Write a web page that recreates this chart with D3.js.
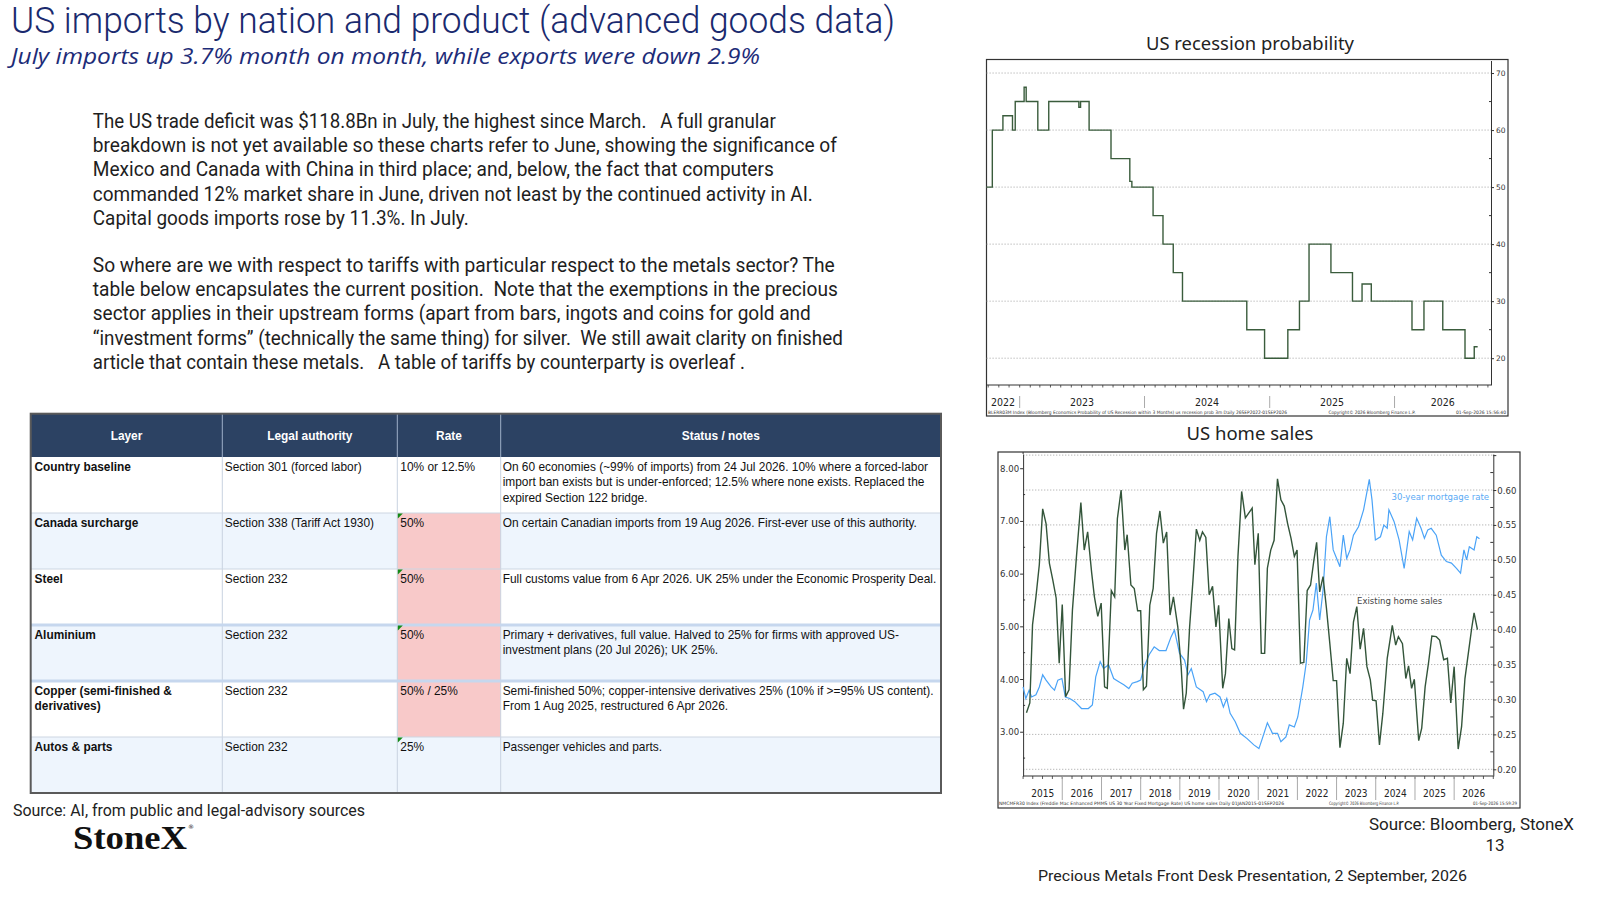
<!DOCTYPE html>
<html>
<head>
<meta charset="utf-8">
<script src="https://cdn.jsdelivr.net/npm/d3@7"></script>
<style>
  body { margin: 0; background: #fff; }
  svg { display: block; }
  text { white-space: pre; }
</style>
</head>
<body>
<svg id="slide" width="1600" height="900"></svg>
<script>
// ---- slide text ----
const slideTitle = "US imports by nation and product (advanced goods data)";
const slideSubtitle = "July imports up 3.7% month on month, while exports were down 2.9%";
const para1 = [
  "The US trade deficit was $118.8Bn in July, the highest since March.   A full granular",
  "breakdown is not yet available so these charts refer to June, showing the significance of",
  "Mexico and Canada with China in third place; and, below, the fact that computers",
  "commanded 12% market share in June, driven not least by the continued activity in AI.",
  "Capital goods imports rose by 11.3%. In July."
];
const para2 = [
  "So where are we with respect to tariffs with particular respect to the metals sector? The",
  "table below encapsulates the current position.  Note that the exemptions in the precious",
  "sector applies in their upstream forms (apart from bars, ingots and coins for gold and",
  "\u201cinvestment forms\u201d (technically the same thing) for silver.  We still await clarity on finished",
  "article that contain these metals.   A table of tariffs by counterparty is overleaf ."
];

// ---- tariff table ----
const tableHead = ["Layer", "Legal authority", "Rate", "Status / notes"];
const layers = [["Country baseline"], ["Canada surcharge"], ["Steel"], ["Aluminium"],
  ["Copper (semi-finished &", "derivatives)"], ["Autos & parts"]];
const authorities = ["Section 301 (forced labor)", "Section 338 (Tariff Act 1930)", "Section 232",
  "Section 232", "Section 232", "Section 232"];
const rates = ["10% or 12.5%", "50%", "50%", "50%", "50% / 25%", "25%"];
const notes = [
  ["On 60 economies (~99% of imports) from 24 Jul 2026. 10% where a forced-labor",
   "import ban exists but is under-enforced; 12.5% where none exists. Replaced the",
   "expired Section 122 bridge."],
  ["On certain Canadian imports from 19 Aug 2026. First-ever use of this authority."],
  ["Full customs value from 6 Apr 2026. UK 25% under the Economic Prosperity Deal."],
  ["Primary + derivatives, full value. Halved to 25% for firms with approved US-",
   "investment plans (20 Jul 2026); UK 25%."],
  ["Semi-finished 50%; copper-intensive derivatives 25% (10% if >=95% US content).",
   "From 1 Aug 2025, restructured 6 Apr 2026."],
  ["Passenger vehicles and parts."]
];

// ---- US recession probability (step series, %) ----
const recDates = ["2022-09-26", "2022-10-13", "2022-11-13", "2022-12-11", "2022-12-19", "2023-01-14",
  "2023-01-20", "2023-02-23", "2023-03-27", "2023-06-23", "2023-06-28", "2023-07-23", "2023-09-25",
  "2023-11-19", "2023-11-25", "2024-01-26", "2024-02-24", "2024-03-25", "2024-04-21", "2024-10-26",
  "2024-12-17", "2025-02-23", "2025-03-29", "2025-04-26", "2025-06-29", "2025-08-31", "2025-09-28",
  "2025-10-25", "2026-02-21", "2026-03-28", "2026-05-22", "2026-07-26", "2026-08-22", "2026-09-01"];
const recValues = [50, 60, 62.5, 60, 65, 67.5, 65, 60, 65, 64, 65, 60, 55, 51, 50, 45, 40, 35, 30, 25,
  20, 25, 30, 40, 35, 30, 33, 30, 25, 30, 25, 20, 22, 22];
const recTicks = [20, 30, 40, 50, 60, 70];

// ---- US home sales chart (time in decimal years) ----
const mortT = [2015.000, 2015.069, 2015.155, 2015.216, 2015.328, 2015.414, 2015.500, 2015.586, 2015.716,
  2015.802, 2015.888, 2015.991, 2016.078, 2016.190, 2016.319, 2016.491, 2016.664, 2016.767, 2016.853,
  2016.966, 2017.052, 2017.181, 2017.310, 2017.440, 2017.569, 2017.698, 2017.784, 2017.914, 2018.000,
  2018.086, 2018.216, 2018.345, 2018.474, 2018.647, 2018.776, 2018.862, 2018.991, 2019.121, 2019.207,
  2019.293, 2019.422, 2019.595, 2019.681, 2019.767, 2019.897, 2020.026, 2020.112, 2020.198, 2020.284,
  2020.414, 2020.543, 2020.716, 2020.888, 2021.017, 2021.103, 2021.233, 2021.362, 2021.491, 2021.578,
  2021.707, 2021.793, 2021.922, 2022.009, 2022.138, 2022.224, 2022.310, 2022.397, 2022.483, 2022.569,
  2022.655, 2022.741, 2022.828, 2022.914, 2023.000, 2023.086, 2023.172, 2023.259, 2023.345, 2023.431,
  2023.560, 2023.690, 2023.836, 2023.905, 2023.991, 2024.121, 2024.207, 2024.293, 2024.336, 2024.466,
  2024.595, 2024.724, 2024.853, 2024.940, 2025.043, 2025.155, 2025.241, 2025.328, 2025.414, 2025.543,
  2025.672, 2025.802, 2025.931, 2026.060, 2026.164, 2026.250, 2026.319, 2026.388, 2026.509, 2026.578,
  2026.647];
const mortRate = [3.85, 3.63, 3.79, 3.66, 3.70, 3.85, 4.08, 3.98, 3.85, 3.79, 3.98, 4.01, 3.66, 3.63,
  3.57, 3.44, 3.44, 3.51, 4.04, 4.33, 4.20, 4.27, 4.01, 3.95, 3.89, 3.82, 3.92, 3.95, 3.98, 4.23, 4.46,
  4.61, 4.54, 4.54, 4.80, 4.93, 4.49, 4.36, 4.08, 4.20, 3.85, 3.76, 3.57, 3.70, 3.73, 3.66, 3.47, 3.63,
  3.35, 3.19, 2.97, 2.87, 2.75, 2.68, 2.87, 3.17, 2.97, 2.97, 2.81, 2.90, 3.13, 3.09, 3.28, 3.85, 4.30,
  5.12, 5.31, 5.82, 5.12, 5.69, 6.70, 7.08, 6.45, 6.29, 6.13, 6.73, 6.29, 6.45, 6.73, 6.89, 7.21, 7.79,
  7.40, 6.64, 6.70, 6.92, 6.86, 7.21, 6.99, 6.64, 6.10, 6.80, 6.64, 7.05, 6.86, 6.67, 6.83, 6.86, 6.73,
  6.35, 6.23, 6.20, 6.10, 6.01, 6.45, 6.26, 6.51, 6.45, 6.70, 6.66];
const salesT = [2015.086, 2015.172, 2015.241, 2015.328, 2015.414, 2015.500, 2015.586, 2015.672, 2015.759,
  2015.845, 2015.922, 2016.000, 2016.086, 2016.172, 2016.259, 2016.362, 2016.474, 2016.560, 2016.647,
  2016.750, 2016.819, 2016.905, 2016.991, 2017.078, 2017.147, 2017.250, 2017.336, 2017.405, 2017.500,
  2017.595, 2017.655, 2017.750, 2017.836, 2017.922, 2018.000, 2018.069, 2018.147, 2018.233, 2018.319,
  2018.405, 2018.491, 2018.578, 2018.664, 2018.750, 2018.836, 2018.948, 2019.034, 2019.095, 2019.164,
  2019.250, 2019.336, 2019.422, 2019.509, 2019.578, 2019.664, 2019.750, 2019.836, 2019.922, 2019.991,
  2020.095, 2020.164, 2020.250, 2020.328, 2020.397, 2020.483, 2020.578, 2020.672, 2020.845, 2020.914,
  2021.000, 2021.078, 2021.164, 2021.233, 2021.319, 2021.405, 2021.491, 2021.578, 2021.664, 2021.750,
  2021.836, 2021.922, 2021.991, 2022.078, 2022.164, 2022.250, 2022.336, 2022.422, 2022.491, 2022.569,
  2022.655, 2022.741, 2022.828, 2022.914, 2023.000, 2023.086, 2023.172, 2023.259, 2023.345, 2023.431,
  2023.517, 2023.603, 2023.690, 2023.776, 2023.862, 2023.922, 2024.009, 2024.095, 2024.181, 2024.293,
  2024.422, 2024.509, 2024.578, 2024.681, 2024.767, 2024.836, 2024.914, 2024.983, 2025.095, 2025.172,
  2025.259, 2025.345, 2025.431, 2025.543, 2025.629, 2025.733, 2025.828, 2025.914, 2026.000, 2026.103,
  2026.190, 2026.276, 2026.362, 2026.448, 2026.509, 2026.595];
const salesV = [0.281, 0.295, 0.407, 0.447, 0.493, 0.573, 0.552, 0.495, 0.471, 0.445, 0.352, 0.436, 0.304,
  0.314, 0.428, 0.505, 0.582, 0.514, 0.540, 0.481, 0.447, 0.419, 0.438, 0.318, 0.316, 0.456, 0.447,
  0.559, 0.600, 0.514, 0.536, 0.464, 0.459, 0.427, 0.427, 0.314, 0.319, 0.435, 0.459, 0.538, 0.570,
  0.524, 0.540, 0.421, 0.447, 0.404, 0.347, 0.286, 0.309, 0.404, 0.471, 0.544, 0.528, 0.540, 0.532,
  0.450, 0.462, 0.404, 0.435, 0.316, 0.337, 0.416, 0.373, 0.371, 0.505, 0.598, 0.560, 0.574, 0.493,
  0.538, 0.366, 0.366, 0.488, 0.514, 0.528, 0.616, 0.586, 0.577, 0.552, 0.531, 0.505, 0.514, 0.352,
  0.353, 0.456, 0.464, 0.500, 0.525, 0.454, 0.476, 0.431, 0.380, 0.327, 0.327, 0.231, 0.266, 0.359,
  0.337, 0.411, 0.433, 0.372, 0.402, 0.347, 0.328, 0.299, 0.298, 0.235, 0.280, 0.359, 0.406, 0.378,
  0.390, 0.380, 0.330, 0.348, 0.316, 0.329, 0.241, 0.259, 0.318, 0.352, 0.391, 0.390, 0.385, 0.357,
  0.359, 0.295, 0.347, 0.229, 0.261, 0.330, 0.366, 0.402, 0.424, 0.400];
const leftTicks = [3, 4, 5, 6, 7, 8];
const rightTicks = [0.20, 0.25, 0.30, 0.35, 0.40, 0.45, 0.50, 0.55, 0.60, 0.65];

// ---------------------------------------------------------------
const svg = d3.select("#slide");
svg.append("rect").attr("width", 1600).attr("height", 900).attr("fill", "#fff");

const SLIDE_FONT = "'Liberation Sans Narrow', 'Roboto', 'Noto Sans', sans-serif";
const parse = d3.timeParse("%Y-%m-%d");

// decimal year -> Date
function fromYear(t) {
  const yr = Math.floor(t);
  const a = new Date(yr, 0, 1), b = new Date(yr + 1, 0, 1);
  return new Date(+a + (t - yr) * (b - a));
}

function addText(g, x, y, str, opts) {
  const t = g.append("text").attr("x", x).attr("y", y).text(str)
    .attr("font-family", opts.family || SLIDE_FONT)
    .attr("font-size", opts.size || 12)
    .attr("fill", opts.fill || "#222");
  if (opts.weight) t.attr("font-weight", opts.weight);
  if (opts.style) t.attr("font-style", opts.style);
  if (opts.anchor) t.attr("text-anchor", opts.anchor);
  if (opts.width) t.attr("textLength", opts.width).attr("lengthAdjust", "spacingAndGlyphs");
  return t;
}

// ---- heading ----
addText(svg, 11, 33, slideTitle, { family: "Roboto, 'Noto Sans', sans-serif", weight: 300,
  size: 36, fill: "#1a2a6e", width: 884 });
addText(svg, 11, 64, slideSubtitle, { family: "'Open Sans', 'Noto Sans', sans-serif", style: "italic",
  size: 22, fill: "#1d2c78", width: 749 });

// ---- body paragraphs ----
const p1W = [683, 744, 681, 720, 376];
const p2W = [742, 745, 718, 750, 652];
para1.forEach((line, i) => addText(svg, 92.8, 128 + i * 24.2, line, { size: 20, fill: "#1e1e1e", width: p1W[i] }));
para2.forEach((line, i) => addText(svg, 92.8, 272 + i * 24.2, line, { size: 20, fill: "#1e1e1e", width: p2W[i] }));

// ---- tariff table ----
function drawTable() {
  const g = svg.append("g");
  const colX = [30.7, 222.3, 397.3, 500.7, 941];
  const headTop = 413.7, headH = 43.3, rowH = 56;
  const rowTop = i => headTop + headH + i * rowH;
  const cellFont = "'Liberation Sans', Arial, sans-serif";
  const fs = 11.9;

  // row backgrounds, pink for the 50% rates
  rates.forEach((r, i) => {
    g.append("rect").attr("x", colX[0]).attr("y", rowTop(i))
      .attr("width", colX[4] - colX[0]).attr("height", rowH)
      .attr("fill", i % 2 ? "#eef5fd" : "#ffffff");
    if (r.includes("50%")) {
      g.append("rect").attr("x", colX[2]).attr("y", rowTop(i))
        .attr("width", colX[3] - colX[2]).attr("height", rowH).attr("fill", "#f8c9c9");
    }
  });

  g.append("rect").attr("x", colX[0]).attr("y", headTop).attr("width", colX[4] - colX[0])
    .attr("height", headH).attr("fill", "#2c4263");
  tableHead.forEach((h, c) => {
    addText(g, (colX[c] + colX[c + 1]) / 2, headTop + headH / 2 + 4.5, h,
      { family: cellFont, size: fs, weight: "bold", fill: "#fff", anchor: "middle" });
  });
  g.selectAll(".hsep").data([1, 2, 3]).join("line")
    .attr("x1", c => colX[c]).attr("x2", c => colX[c])
    .attr("y1", headTop).attr("y2", headTop + headH)
    .attr("stroke", "#9fb0c8").attr("stroke-width", 1);

  // grid lines
  g.selectAll(".vsep").data([1, 2, 3]).join("line")
    .attr("x1", c => colX[c]).attr("x2", c => colX[c])
    .attr("y1", headTop + headH).attr("y2", rowTop(rates.length))
    .attr("stroke", "#c9d3e0").attr("stroke-width", 1);
  g.selectAll(".hsepr").data(d3.range(1, rates.length)).join("line")
    .attr("x1", colX[0]).attr("x2", colX[4])
    .attr("y1", i => rowTop(i)).attr("y2", i => rowTop(i))
    .attr("stroke", i => (i === 3 || i === 4) ? "#c6d7ee" : "#cdd6e2")
    .attr("stroke-width", i => (i === 3 || i === 4) ? 3 : 1);

  // cell text
  rates.forEach((r, i) => {
    const top = rowTop(i) + 13.5;
    layers[i].forEach((l, k) => addText(g, 34.5, top + k * 15.5, l,
      { family: cellFont, size: fs, weight: "bold", fill: "#111" }));
    addText(g, colX[1] + 2.5, top, authorities[i], { family: cellFont, size: fs, fill: "#111" });
    addText(g, colX[2] + 3, top, r, { family: cellFont, size: fs, fill: "#111" });
    notes[i].forEach((n, k) => addText(g, colX[3] + 2, top + k * 15.5, n,
      { family: cellFont, size: fs, fill: "#111" }));
    // spreadsheet "number as text" marker on single-value rates
    if (/^\d+%$/.test(r)) {
      const x0 = colX[2] + 0.5, y0 = rowTop(i) + 0.5;
      g.append("path").attr("d", `M${x0},${y0}L${x0 + 5},${y0}L${x0},${y0 + 5}Z`).attr("fill", "#138a16");
    }
  });

  g.append("rect").attr("x", colX[0]).attr("y", headTop).attr("width", colX[4] - colX[0])
    .attr("height", rowTop(rates.length) - headTop).attr("fill", "none")
    .attr("stroke", "#5a5a5a").attr("stroke-width", 2);
}
drawTable();

// ---- US recession probability ----
function drawRecession() {
  const g = svg.append("g");
  const left = 986.5, right = 1491, top = 60.5, bottom = 385;
  addText(g, 1250, 50, "US recession probability",
    { family: "'Noto Sans', 'Open Sans', sans-serif", size: 18, fill: "#222", anchor: "middle", width: 208 });
  g.append("rect").attr("x", left).attr("y", 59.5).attr("width", 1508 - left).attr("height", 416 - 59.5)
    .attr("fill", "#fff").attr("stroke", "#333").attr("stroke-width", 1.2);

  const x = d3.scaleTime().domain([parse("2022-09-26"), parse("2026-10-10")]).range([left, right]);
  const y = d3.scaleLinear().domain([15.3, 72.2]).range([bottom, top]);

  g.selectAll(".grid").data(recTicks).join("line")
    .attr("x1", left).attr("x2", right).attr("y1", d => y(d)).attr("y2", d => y(d))
    .attr("stroke", "#9c9c9c").attr("stroke-width", 0.8).attr("stroke-dasharray", "1.2,1.8");

  const ax = g.append("g").attr("transform", `translate(${right},0)`)
    .call(d3.axisRight(y).tickValues(recTicks).tickSize(3).tickSizeOuter(0).tickFormat(d3.format("d")));
  ax.select(".domain").attr("stroke", "#333");
  ax.selectAll(".tick line").attr("stroke", "#333");
  ax.selectAll(".tick text").attr("font-family", "'DejaVu Sans', sans-serif").attr("font-size", 7.5)
    .attr("fill", "#333").attr("x", 5);
  g.selectAll(".minor").data(d3.range(25, 70, 10)).join("line")
    .attr("x1", right - 2).attr("x2", right).attr("y1", d => y(d)).attr("y2", d => y(d)).attr("stroke", "#333");

  g.append("line").attr("x1", left).attr("x2", right).attr("y1", bottom).attr("y2", bottom).attr("stroke", "#333");
  g.selectAll(".mtick").data(d3.timeMonth.range(parse("2022-10-01"), parse("2026-10-05"))).join("line")
    .attr("x1", d => x(d)).attr("x2", d => x(d)).attr("y1", bottom).attr("y2", bottom + 2.5)
    .attr("stroke", "#333").attr("stroke-width", 0.8);

  const years = [2022, 2023, 2024, 2025, 2026];
  const [d0, d1] = x.domain();
  years.forEach(yr => {
    const a = new Date(Math.max(+new Date(yr, 0, 1), +d0));
    const b = new Date(Math.min(+new Date(yr + 1, 0, 1), +d1));
    addText(g, (x(a) + x(b)) / 2, 405.5, String(yr),
      { family: "'DejaVu Sans Condensed', 'DejaVu Sans', sans-serif", size: 10.5, fill: "#222", anchor: "middle" });
    if (yr > 2022) {
      g.append("line").attr("x1", x(new Date(yr, 0, 1))).attr("x2", x(new Date(yr, 0, 1)))
        .attr("y1", 396).attr("y2", 408).attr("stroke", "#aaa");
    }
  });

  const pts = recDates.map((d, i) => [parse(d), recValues[i]]);
  g.append("path").datum(pts)
    .attr("d", d3.line().x(d => x(d[0])).y(d => y(d[1])).curve(d3.curveStepAfter))
    .attr("fill", "none").attr("stroke", "#3a5c3c").attr("stroke-width", 1.4);

  const tiny = { family: "'DejaVu Sans', sans-serif", size: 4.6, fill: "#333" };
  addText(g, 988, 414, "BLERR03M Index (Bloomberg Economics Probability of US Recession within 3 Months) us recession prob 3m Daily 26SEP2022-01SEP2026",
    Object.assign({ width: 299 }, tiny));
  addText(g, 1328.5, 414, "Copyright\u00a9 2026 Bloomberg Finance L.P.", Object.assign({ width: 87 }, tiny));
  addText(g, 1456, 414, "01-Sep-2026 15:56:40", Object.assign({ width: 50 }, tiny));
}
drawRecession();

// ---- US home sales ----
function drawHomeSales() {
  const g = svg.append("g");
  const left = 1023.1, right = 1493.3, top = 454, bottom = 776;
  addText(g, 1250, 440, "US home sales",
    { family: "'Noto Sans', 'Open Sans', sans-serif", size: 18, fill: "#222", anchor: "middle", width: 127 });
  g.append("rect").attr("x", 998).attr("y", 452).attr("width", 522).attr("height", 356)
    .attr("fill", "#fff").attr("stroke", "#333").attr("stroke-width", 1.2);

  const x = d3.scaleTime().domain([new Date(2015, 0, 1), new Date(2027, 0, 1)]).range([left, right]);
  const yL = d3.scaleLinear().domain([2.16, 8.27]).range([bottom, top]);
  const yR = d3.scaleLinear().domain([0.1904, 0.6516]).range([bottom, top]);

  g.selectAll(".grid").data(rightTicks).join("line")
    .attr("x1", left).attr("x2", right).attr("y1", d => yR(d)).attr("y2", d => yR(d))
    .attr("stroke", "#9c9c9c").attr("stroke-width", 0.8).attr("stroke-dasharray", "1.2,1.8");

  const axFont = "'DejaVu Sans Condensed', 'DejaVu Sans', sans-serif";
  const la = g.append("g").attr("transform", `translate(${left},0)`)
    .call(d3.axisLeft(yL).tickValues(leftTicks).tickSize(3).tickSizeOuter(0).tickFormat(d3.format(".2f")));
  la.select(".domain").attr("stroke", "#333");
  la.selectAll(".tick line").attr("stroke", "#333");
  la.selectAll(".tick text").attr("font-family", axFont).attr("font-size", 9.5).attr("fill", "#333").attr("x", -4);
  g.selectAll(".lminor").data(d3.range(2.5, 8.1, 1)).join("line")
    .attr("x1", left).attr("x2", left + 2).attr("y1", d => yL(d)).attr("y2", d => yL(d)).attr("stroke", "#333");
  g.append("line").attr("x1", left).attr("x2", left).attr("y1", 452).attr("y2", top).attr("stroke", "#333");

  const ra = g.append("g").attr("transform", `translate(${right},0)`)
    .call(d3.axisRight(yR).tickValues(rightTicks).tickSize(3).tickSizeOuter(0)
      .tickFormat(d => d > 0.62 ? "" : d3.format(".2f")(d)));
  ra.select(".domain").attr("stroke", "#333");
  ra.selectAll(".tick line").attr("stroke", "#333");
  ra.selectAll(".tick text").attr("font-family", axFont).attr("font-size", 9.5).attr("fill", "#333").attr("x", 4);
  g.selectAll(".rminor").data(d3.range(0.225, 0.65, 0.05)).join("line")
    .attr("x1", right - 3).attr("x2", right).attr("y1", d => yR(d)).attr("y2", d => yR(d)).attr("stroke", "#333");

  g.append("line").attr("x1", left).attr("x2", right).attr("y1", bottom).attr("y2", bottom).attr("stroke", "#333");
  g.selectAll(".qtick").data(d3.timeMonth.every(3).range(new Date(2015, 0, 1), new Date(2027, 0, 2))).join("line")
    .attr("x1", d => x(d)).attr("x2", d => x(d)).attr("y1", bottom).attr("y2", bottom + 3)
    .attr("stroke", "#333").attr("stroke-width", 0.8);
  d3.range(2015, 2027).forEach(yr => {
    const a = new Date(yr, 0, 1), b = new Date(yr + 1, 0, 1);
    addText(g, (x(a) + x(b)) / 2, 797, String(yr),
      { family: axFont, size: 10, fill: "#222", anchor: "middle" });
    if (yr > 2015) {
      g.append("line").attr("x1", x(a)).attr("x2", x(a)).attr("y1", bottom).attr("y2", 800)
        .attr("stroke", "#aaa");
    }
  });

  const mort = mortT.map((t, i) => [fromYear(t), mortRate[i]]);
  const sales = salesT.map((t, i) => [fromYear(t), salesV[i]]);
  g.append("path").datum(mort)
    .attr("d", d3.line().x(d => x(d[0])).y(d => yL(d[1])))
    .attr("fill", "none").attr("stroke", "#4aa3f7").attr("stroke-width", 1.2);
  g.append("path").datum(sales)
    .attr("d", d3.line().x(d => x(d[0])).y(d => yR(d[1])))
    .attr("fill", "none").attr("stroke", "#33553a").attr("stroke-width", 1.4);

  addText(g, 1489, 500, "30-year mortgage rate", { family: axFont, size: 9.5, fill: "#5aaaf5", anchor: "end" });
  addText(g, 1357, 604, "Existing home sales", { family: axFont, size: 9.5, fill: "#444" });

  const tiny = { family: "'DejaVu Sans', sans-serif", size: 4.6, fill: "#333" };
  addText(g, 999, 805, "NMCMFR30 Index (Freddie Mac Enhanced PMMS US 30 Year Fixed Mortgage Rate) US home sales Daily 01JAN2015-01SEP2026",
    Object.assign({ width: 285 }, tiny));
  addText(g, 1329, 805, "Copyright\u00a9 2026 Bloomberg Finance L.P.", Object.assign({ width: 70 }, tiny));
  addText(g, 1473, 805, "01-Sep-2026 15:59:29", Object.assign({ width: 44 }, tiny));
}
drawHomeSales();

// ---- footers ----
addText(svg, 13, 816, "Source: AI, from public and legal-advisory sources", { size: 16, fill: "#222", width: 352 });
addText(svg, 73, 849, "StoneX", { family: "'Liberation Serif', 'DejaVu Serif', serif",
  size: 34, weight: "bold", fill: "#111", width: 114 });
addText(svg, 188, 829, "\u00ae", { family: "'DejaVu Sans', sans-serif", size: 6, fill: "#111" });
addText(svg, 1574, 830, "Source: Bloomberg, StoneX", { size: 16, fill: "#222", anchor: "end", width: 205 });
addText(svg, 1495, 851, "13", { size: 17, fill: "#222", anchor: "middle" });
addText(svg, 1038, 881, "Precious Metals Front Desk Presentation, 2 September, 2026", { size: 15.5, fill: "#222", width: 429 });
</script>
</body>
</html>
